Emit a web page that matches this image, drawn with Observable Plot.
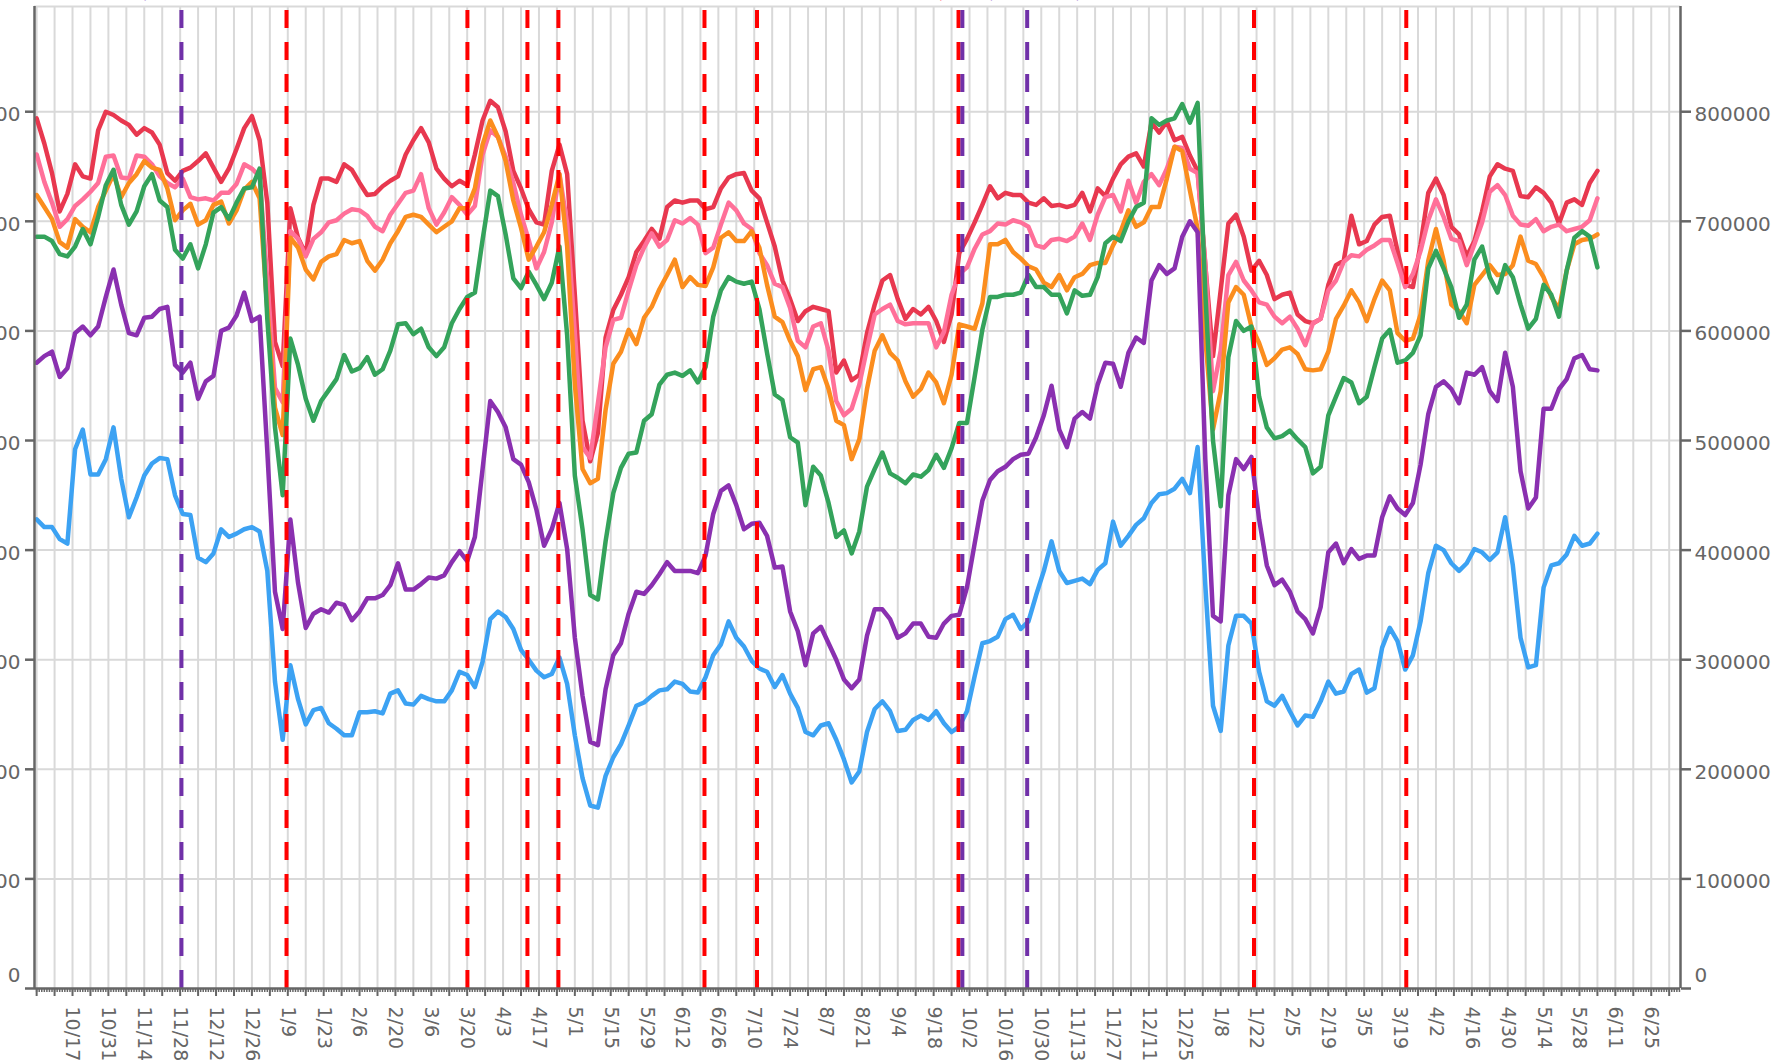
<!DOCTYPE html>
<html><head><meta charset="utf-8">
<script src="https://cdn.jsdelivr.net/npm/d3@7"></script>
<script src="https://cdn.jsdelivr.net/npm/@observablehq/plot@0.6"></script>
<style>html,body{margin:0;padding:0;background:#fff;overflow:hidden}</style>
</head><body><div id="chart"></div>
<script>
// Samples every 3 days starting 2020-10-03; values in thousands
const firstSample = "2020-10-03";
const sampleStepDays = 3;
const red = [794,771,744,709,725,752,741,739,783,800,797,792,788,779,785,781,770,744,737,746,749,755,762,749,736,748,766,785,796,774,717,590,568,712,685,670,715,739,739,736,752,747,735,724,725,732,737,741,761,774,785,772,748,739,732,737,733,761,792,810,804,782,746,730,711,699,697,746,770,
743,633,518,481,507,594,619,633,649,672,682,693,684,713,719,717,719,719,711,713,730,740,743,744,728,721,699,677,646,629,609,618,622,620,618,562,573,555,560,598,624,646,651,629,611,620,615,622,609,590,615,671,684,699,715,732,721,726,724,724,717,715,721,714,715,713,715,
726,709,730,723,739,752,759,762,750,790,781,791,774,777,760,746,660,577,637,698,706,686,655,664,651,629,633,635,615,609,607,611,642,660,664,705,679,682,697,704,705,673,642,640,679,726,739,724,695,688,668,682,709,741,752,748,746,723,722,731,726,717,698,717,720,715,735,746];
const pink = [761,736,717,695,702,714,720,727,735,759,760,740,739,760,759,752,741,735,731,739,722,720,721,719,726,726,734,752,748,741,646,548,535,691,684,668,684,690,699,701,707,711,710,705,695,691,706,716,726,728,743,712,697,708,722,715,706,714,761,783,777,759,735,706,683,657,672,699,743,
698,598,494,484,534,585,610,612,637,660,676,689,677,683,701,698,703,697,671,676,697,717,710,698,693,671,660,643,640,621,591,585,604,607,582,536,523,529,551,584,615,620,624,609,606,607,607,607,585,599,633,652,658,675,688,691,698,697,701,699,695,678,676,683,684,682,686,
698,683,706,722,724,709,737,717,736,743,733,748,768,767,748,744,662,545,582,651,663,646,637,626,624,613,607,613,602,587,607,611,637,646,663,669,668,674,678,683,683,662,640,652,673,701,720,704,684,682,660,679,699,727,733,724,705,697,696,702,691,695,697,691,693,695,701,721];
const orange = [724,713,702,681,676,702,695,690,713,728,743,722,735,743,755,749,747,730,701,710,716,697,701,715,718,698,710,729,736,721,620,530,505,685,676,656,647,663,668,670,683,680,682,664,655,665,680,691,704,706,704,697,690,695,700,712,712,730,770,792,777,755,719,694,665,677,690,715,743,
677,551,474,461,465,528,570,581,601,588,612,622,638,651,665,640,649,642,641,658,685,690,682,682,691,676,642,613,608,591,577,546,565,567,547,518,514,483,501,547,582,596,580,573,554,540,547,562,553,534,560,606,604,602,625,679,679,683,672,666,659,656,644,640,651,637,649,
652,660,662,662,678,691,710,695,699,713,713,739,768,764,728,693,593,510,545,626,640,633,604,589,569,575,583,585,579,565,564,565,581,611,623,637,626,609,629,646,637,598,591,593,615,664,693,664,624,618,607,642,651,660,651,652,660,686,664,661,649,631,620,655,679,683,684,688];
const green = [686,686,682,670,668,677,693,679,704,733,747,715,697,709,732,743,719,713,674,666,679,657,679,708,713,702,717,730,731,748,611,512,450,593,569,538,518,536,546,556,578,563,566,576,560,565,582,606,607,597,602,585,577,585,607,620,631,635,683,728,723,688,648,639,654,642,629,644,677,
596,468,419,359,355,408,452,475,488,489,518,524,551,560,562,559,564,553,567,613,637,649,645,643,645,620,580,542,537,503,498,441,476,468,443,412,418,397,417,458,474,489,470,466,461,469,467,473,487,475,493,516,516,558,601,631,631,633,633,635,651,640,640,633,633,616,637,
632,633,649,680,686,682,700,713,717,794,788,792,794,807,790,808,635,500,440,576,609,600,604,540,512,502,504,509,501,494,470,476,523,540,557,553,534,540,567,593,601,571,573,580,596,657,673,657,640,612,624,665,677,649,635,660,649,624,602,611,642,633,613,655,685,691,686,658];
const purple = [571,577,581,558,566,598,604,596,604,631,656,624,598,596,612,613,620,622,569,562,571,538,554,559,600,603,614,635,609,613,490,362,328,428,370,329,342,346,343,352,350,336,344,356,356,359,368,388,364,364,369,375,374,377,389,399,390,412,474,536,526,512,483,478,462,437,404,419,443,
401,320,267,225,222,273,304,315,342,362,360,368,378,389,381,381,381,379,395,433,454,459,441,419,424,425,413,384,385,344,326,295,324,330,315,300,282,274,282,322,346,346,337,320,324,333,333,321,320,333,340,341,366,406,445,464,472,476,483,487,488,503,523,550,510,494,520,
526,520,551,571,570,549,580,594,589,646,660,652,657,686,700,690,483,340,335,450,483,474,485,428,386,368,373,362,344,337,324,348,398,406,388,401,392,395,395,430,449,438,432,443,478,524,549,554,547,534,562,560,567,545,536,580,549,472,438,448,529,529,547,556,575,578,565,564];
const blue = [428,421,421,410,406,492,510,469,469,483,512,465,430,448,468,479,484,483,450,433,432,393,389,397,419,412,415,419,421,417,381,280,227,295,264,241,254,256,242,237,231,231,252,252,253,251,269,272,260,259,267,264,262,262,272,289,286,275,298,337,344,339,328,309,300,290,284,287,302,
278,231,192,167,165,194,211,223,240,258,261,267,272,273,280,278,271,270,284,304,314,335,320,312,299,292,289,275,286,269,256,234,231,240,242,227,209,188,198,234,255,262,253,235,236,245,249,245,253,242,234,239,253,285,315,317,321,337,341,328,335,359,381,408,381,370,372,
374,369,382,388,426,404,413,423,429,443,451,452,456,465,452,494,368,258,235,313,340,340,333,289,262,258,267,253,240,249,248,262,280,269,271,287,291,270,274,311,329,317,291,304,335,379,404,400,388,381,388,401,398,391,398,430,386,320,293,295,366,386,388,396,413,404,406,415];

const seriesNames = ["red","pink","orange","green","purple","blue"];
const seriesColors = ["#e8384f","#ff7099","#fb8d1e","#34a35b","#8a30b0","#3ca2f3"];
const seriesValues = [red, pink, orange, green, purple, blue];

const redEvents = ["2021-01-08T12:00Z","2021-03-20T02:00Z","2021-04-12T12:00Z","2021-04-24T14:00Z","2021-06-20T14:00Z","2021-07-11T02:00Z","2021-09-27T17:00Z","2022-01-21T00:00Z","2022-03-21T10:00Z"];
const purpleEvents = ["2020-11-28T12:00Z","2021-09-29T05:00Z","2021-10-24T12:00Z"];
// event date notes (only their lowest edge is visible above the plot)
const eventNotes = [
  {date: "2020-11-28T12:00Z", text: "(11/28)", color: "#8a4fc8", anchor: "end", dx: -11},
  {date: "2021-09-27T17:00Z", text: "(9/27)", color: "#ff3b3b", anchor: "middle", dx: -12},
  {date: "2021-09-29T05:00Z", text: "(9/29)", color: "#8a4fc8", anchor: "start", dx: 15},
  {date: "2021-10-24T12:00Z", text: "(10/24)", color: "#8a4fc8", anchor: "start", dx: 28}
];

const yTicks = [100000,200000,300000,400000,500000,600000,700000,800000];
const xDomain = [new Date("2020-10-02T04:00Z"), new Date("2022-07-06T10:00Z")];
const yMax = 896000;

const t0 = new Date(firstSample + "T00:00Z");
const rows = [];
seriesValues.forEach((vals, s) => {
  vals.forEach((v, i) => rows.push({series: seriesNames[s], date: d3.utcDay.offset(t0, i * sampleStepDays), value: v * 1000}));
});

const weekly = d3.utcSaturday.range(new Date("2020-10-03T00:00Z"), xDomain[1]);
const daily = d3.utcDay.range(d3.utcDay.ceil(xDomain[0]), xDomain[1]);
const labelDates = d3.utcDay.range(new Date("2020-10-17T00:00Z"), new Date("2022-06-26T00:00Z"), 14);
const fmt = d3.utcFormat("%-m/%-d");
const gray = "#666";

const lineMarks = seriesNames.map((n, s) => Plot.line(rows.filter(r => r.series === n), {
  x: "date", y: "value", stroke: seriesColors[s], strokeWidth: 4.5, strokeLinejoin: "round", strokeLinecap: "round"
}));

const noteMarks = eventNotes.map(n => Plot.text([n], {
  x: d => new Date(d.date), y: yMax, text: "text", fill: n.color, fontSize: 13,
  textAnchor: n.anchor, dx: n.dx, dy: -12, lineAnchor: "middle"
}));

const chart = Plot.plot({
  width: 1783, height: 1060,
  marginLeft: 34, marginRight: 103, marginTop: 6, marginBottom: 72,
  style: {fontFamily: "DejaVu Sans, sans-serif", background: "#fff", color: gray, overflow: "hidden"},
  x: {type: "utc", domain: xDomain},
  y: {domain: [0, yMax]},
  marks: [
    Plot.gridX(weekly, {stroke: "#d9d9d9", strokeOpacity: 1, strokeWidth: 2}),
    Plot.gridY(yTicks, {stroke: "#d9d9d9", strokeOpacity: 1, strokeWidth: 2}),
    Plot.ruleY([yMax], {stroke: "#d9d9d9", strokeWidth: 2}),
    ...lineMarks,
    Plot.ruleX(redEvents.map(d => new Date(d)), {y1: 0, y2: yMax, stroke: "#ff0000", strokeWidth: 4, strokeDasharray: "18,14"}),
    Plot.ruleX(purpleEvents.map(d => new Date(d)), {y1: 0, y2: yMax, stroke: "#7030a8", strokeWidth: 4, strokeDasharray: "18,14"}),
    ...noteMarks,
    Plot.ruleX(xDomain, {stroke: gray, strokeWidth: 2.5}),
    Plot.ruleY([0], {stroke: gray, strokeWidth: 2.5}),
    Plot.axisY({anchor: "left", ticks: [0, ...yTicks], tickSize: 9, tickFormat: () => "", stroke: gray, strokeWidth: 2.5, label: null}),
    Plot.axisY({anchor: "right", ticks: [0, ...yTicks], tickSize: 10, tickFormat: () => "", stroke: gray, strokeWidth: 2.5, label: null}),
    Plot.axisX({anchor: "bottom", ticks: daily, tickSize: 4, tickFormat: () => "", stroke: gray, strokeWidth: 1.5, label: null}),
    Plot.axisX({anchor: "bottom", ticks: weekly, tickSize: 8, tickFormat: () => "", stroke: gray, strokeWidth: 2, label: null}),
    Plot.text(yTicks, {y: d => d, text: d => String(d), frameAnchor: "left", dx: -14, dy: 3, textAnchor: "end", fontSize: 20, fill: gray}),
    Plot.text(yTicks, {y: d => d, text: d => String(d), frameAnchor: "right", dx: 14, dy: 3, textAnchor: "start", fontSize: 20, fill: gray}),
    Plot.text([0], {y: d => d, text: d => String(d), frameAnchor: "left", dx: -14, dy: -13, textAnchor: "end", fontSize: 20, fill: gray}),
    Plot.text([0], {y: d => d, text: d => String(d), frameAnchor: "right", dx: 14, dy: -13, textAnchor: "start", fontSize: 20, fill: gray}),
    Plot.text(labelDates, {x: d => d, text: d => fmt(d), frameAnchor: "bottom", dy: 18, rotate: 90, textAnchor: "start", lineAnchor: "middle", fontSize: 19, fill: gray})
  ]
});
document.getElementById("chart").appendChild(chart);
</script>
</body></html>
